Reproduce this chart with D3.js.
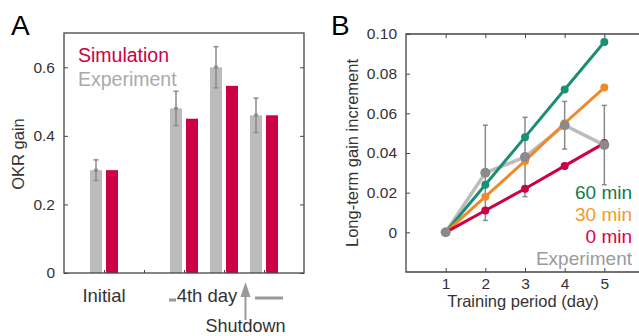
<!DOCTYPE html>
<html>
<head>
<meta charset="utf-8">
<script src="https://cdn.jsdelivr.net/npm/d3@7"></script>
<style>
  body { margin: 0; background: #fff; }
  text { font-family: "Liberation Sans", Arial, sans-serif; }
</style>
</head>
<body>
<script>
// Panel A data
const groups = ['Initial', '', '4th day', 'Shutdown a', 'Shutdown b'];
const groupPos = [1, 3, 4, 5];
const expGain = [0.30, 0.48, 0.60, 0.46];
const expErr = [0.03, 0.05, 0.06, 0.05];
const simGain = [0.30, 0.45, 0.546, 0.46];
const yTicksA = [0, 0.2, 0.4, 0.6];

// Panel B data
const days = [1, 2, 3, 4, 5];
const sim60 = [0, 0.024, 0.048, 0.072, 0.096];
const sim30 = [0, 0.018, 0.036, 0.055, 0.073];
const sim0 = [0, 0.011, 0.022, 0.0335, 0.045];
const expInc = [0, 0.030, 0.038, 0.054, 0.044];
const expIncLo = [0, 0.006, 0.018, 0.042, 0.024];
const expIncHi = [0, 0.054, 0.058, 0.066, 0.064];
const yTicksB = [0, 0.02, 0.04, 0.06, 0.08, 0.10];

const red = '#cc0044', lightGray = '#bcbcbc', darkGray = '#8a8a8a', axisCol = '#444';

const svg = d3.select('body').append('svg')
  .attr('width', 639).attr('height', 336);

// ---------- Panel A ----------
const xA = d3.scaleLinear().domain([0, 6]).range([64, 304]);
const yA = d3.scaleLinear().domain([0, 0.7]).range([273, 33]);
const gA = svg.append('g');

gA.append('text').attr('x', 11).attr('y', 35).attr('font-size', 28).text('A');

// bars
const bw = 12;
gA.selectAll('.bexp').data(groupPos).enter().append('rect')
  .attr('x', (d) => xA(d) - 8 - bw / 2)
  .attr('y', (d, i) => yA(expGain[i]))
  .attr('width', bw)
  .attr('height', (d, i) => yA(0) - yA(expGain[i]))
  .attr('fill', lightGray);
gA.selectAll('.bsim').data(groupPos).enter().append('rect')
  .attr('x', (d) => xA(d) + 8 - bw / 2)
  .attr('y', (d, i) => yA(simGain[i]))
  .attr('width', bw)
  .attr('height', (d, i) => yA(0) - yA(simGain[i]))
  .attr('fill', red);

// error bars
groupPos.forEach((d, i) => {
  const cx = xA(d) - 8;
  gA.append('line').attr('x1', cx).attr('x2', cx)
    .attr('y1', yA(expGain[i] - expErr[i])).attr('y2', yA(expGain[i] + expErr[i]))
    .attr('stroke', darkGray).attr('stroke-width', 1.5);
  [expGain[i] - expErr[i], expGain[i] + expErr[i]].forEach((v) => {
    gA.append('line').attr('x1', cx - 2.5).attr('x2', cx + 2.5)
      .attr('y1', yA(v)).attr('y2', yA(v))
      .attr('stroke', darkGray).attr('stroke-width', 1.5);
  });
  gA.append('circle').attr('cx', cx).attr('cy', yA(expGain[i])).attr('r', 2).attr('fill', darkGray);
});

// axes
const axA = gA.append('g').attr('transform', 'translate(64,0)')
  .call(d3.axisLeft(yA).tickValues(yTicksA).tickSize(-4).tickPadding(9)
    .tickFormat((d) => d === 0 ? '0' : d3.format('.1f')(d)));
axA.select('.domain').remove();
axA.selectAll('line').attr('stroke', axisCol);
axA.selectAll('text').attr('font-size', 15.5).attr('fill', '#333');
gA.append('g').attr('transform', 'translate(304,0)')
  .call(d3.axisRight(yA).tickValues(yTicksA).tickSize(-4).tickFormat(''))
  .call((g) => g.select('.domain').remove())
  .selectAll('line').attr('stroke', axisCol);
gA.append('g').attr('transform', 'translate(0,273)')
  .call(d3.axisBottom(xA).tickValues([1, 2, 3, 4, 5]).tickSize(-3).tickFormat(''))
  .call((g) => g.select('.domain').remove())
  .selectAll('line').attr('stroke', axisCol);
gA.append('rect').attr('x', 64).attr('y', 33).attr('width', 240).attr('height', 240)
  .attr('fill', 'none').attr('stroke', axisCol).attr('stroke-width', 1.3);

gA.append('text').attr('transform', 'translate(24,154) rotate(-90)')
  .attr('text-anchor', 'middle').attr('font-size', 16.5).attr('fill', '#333').text('OKR gain');

gA.append('text').attr('x', 78).attr('y', 62).attr('font-size', 19.5).attr('fill', red).text('Simulation');
gA.append('text').attr('x', 78).attr('y', 86).attr('font-size', 19.5).attr('fill', '#aaa').text('Experiment');

// x labels
gA.append('text').attr('x', xA(1)).attr('y', 302).attr('text-anchor', 'middle')
  .attr('font-size', 18.5).attr('fill', '#333').text(groups[0]);
gA.append('text').attr('x', 207).attr('y', 302).attr('text-anchor', 'middle')
  .attr('font-size', 18.5).attr('fill', '#333').text(groups[2]);
gA.append('line').attr('x1', 169).attr('x2', 176).attr('y1', 300).attr('y2', 300)
  .attr('stroke', '#999').attr('stroke-width', 3);
gA.append('line').attr('x1', 255).attr('x2', 283).attr('y1', 298).attr('y2', 298)
  .attr('stroke', '#999').attr('stroke-width', 3);
const ax = (xA(4) + xA(5)) / 2 + 1.5;
gA.append('line').attr('x1', ax).attr('x2', ax).attr('y1', 294).attr('y2', 320)
  .attr('stroke', '#999').attr('stroke-width', 2);
gA.append('path').attr('d', `M${ax},282 L${ax - 5},297 L${ax + 5},297 Z`).attr('fill', '#999');
gA.append('text').attr('x', ax).attr('y', 332).attr('text-anchor', 'middle')
  .attr('font-size', 18).attr('fill', '#333').text('Shutdown');

// ---------- Panel B ----------
const xB = d3.scaleLinear().domain([0, 6]).range([406, 644]);
const yB = d3.scaleLinear().domain([-0.02, 0.10]).range([272, 34]);
const gB = svg.append('g');

gB.append('text').attr('x', 331).attr('y', 35).attr('font-size', 28).text('B');

const axB = gB.append('g').attr('transform', 'translate(406,0)')
  .call(d3.axisLeft(yB).tickValues(yTicksB).tickSize(-4).tickPadding(9)
    .tickFormat((d) => d === 0 ? '0' : d3.format('.2f')(d)));
axB.select('.domain').remove();
axB.selectAll('line').attr('stroke', axisCol);
axB.selectAll('text').attr('font-size', 15.5).attr('fill', '#333');
const axBx = gB.append('g').attr('transform', 'translate(0,272)')
  .call(d3.axisBottom(xB).tickValues(days).tickSize(-4).tickPadding(6).tickFormat(d3.format('d')));
axBx.select('.domain').remove();
axBx.selectAll('line').attr('stroke', axisCol);
axBx.selectAll('text').attr('font-size', 15.5).attr('fill', '#333');
gB.append('g').attr('transform', 'translate(0,34)')
  .call(d3.axisTop(xB).tickValues(days).tickSize(-4).tickFormat(''))
  .call((g) => g.select('.domain').remove())
  .selectAll('line').attr('stroke', axisCol);
gB.append('path').attr('d', 'M639,34 H406 V272 H639')
  .attr('fill', 'none').attr('stroke', axisCol).attr('stroke-width', 1.3);

gB.append('text').attr('transform', 'translate(358,153) rotate(-90)')
  .attr('text-anchor', 'middle').attr('font-size', 16.5).attr('fill', '#333').text('Long-term gain increment');
gB.append('text').attr('x', 523).attr('y', 307).attr('text-anchor', 'middle')
  .attr('font-size', 16.5).attr('fill', '#333').text('Training period (day)');

const line = d3.line().x((d, i) => xB(days[i])).y((d) => yB(d));

// experiment error bars
days.forEach((d, i) => {
  if (i === 0) return;
  gB.append('line').attr('x1', xB(d)).attr('x2', xB(d))
    .attr('y1', yB(expIncLo[i])).attr('y2', yB(expIncHi[i]))
    .attr('stroke', darkGray).attr('stroke-width', 1.5);
  [expIncLo[i], expIncHi[i]].forEach((v) => {
    gB.append('line').attr('x1', xB(d) - 2.5).attr('x2', xB(d) + 2.5)
      .attr('y1', yB(v)).attr('y2', yB(v))
      .attr('stroke', darkGray).attr('stroke-width', 1.5);
  });
});

gB.append('path').datum(expInc).attr('d', line)
  .attr('fill', 'none').attr('stroke', lightGray).attr('stroke-width', 3.5);

const series = [
  { vals: sim60, col: '#1a8f74' },
  { vals: sim30, col: '#ee8a2c' },
  { vals: sim0, col: red }
];
series.forEach((s) => {
  gB.append('path').datum(s.vals).attr('d', line)
    .attr('fill', 'none').attr('stroke', s.col).attr('stroke-width', 3);
  gB.selectAll(null).data(s.vals.slice(1)).enter().append('circle')
    .attr('cx', (d, i) => xB(days[i + 1])).attr('cy', (d) => yB(d))
    .attr('r', 4).attr('fill', s.col);
});

gB.selectAll(null).data(expInc).enter().append('circle')
  .attr('cx', (d, i) => xB(days[i])).attr('cy', (d) => yB(d))
  .attr('r', 5).attr('fill', darkGray);

const legB = [['60 min', '#137a4c'], ['30 min', '#f39a1e'], ['0 min', '#e0004a'], ['Experiment', '#9a9a9a']];
legB.forEach((l, i) => {
  gB.append('text').attr('x', 632).attr('y', 199 + i * 22).attr('text-anchor', 'end')
    .attr('font-size', 19).attr('fill', l[1]).text(l[0]);
});
</script>
</body>
</html>
